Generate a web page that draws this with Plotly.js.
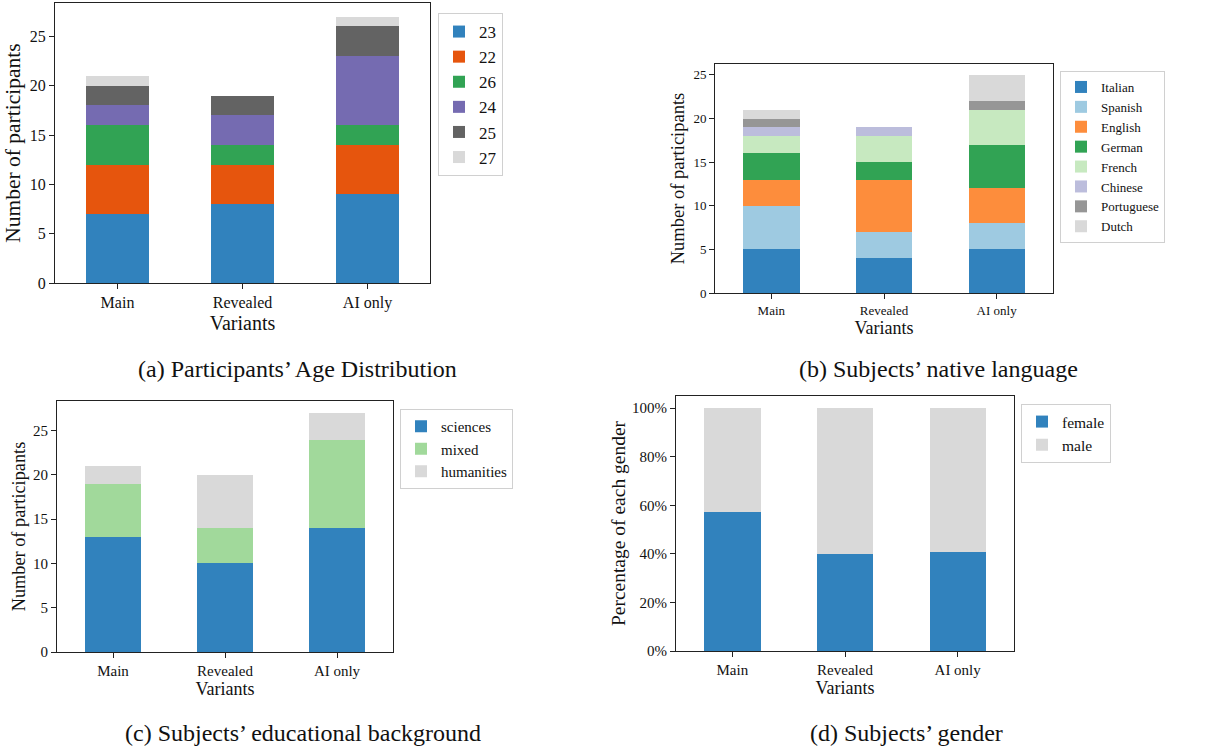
<!DOCTYPE html>
<html>
<head>
<meta charset="utf-8">
<script src="https://cdn.plot.ly/plotly-3.0.1.min.js"></script>
<style>html,body{margin:0;padding:0;background:#fff;} #chart{width:1208px;height:751px;}</style>
</head>
<body>
<div id="chart"></div>
<script>
// ---- shared categories ----
const variants = ["Main", "Revealed", "AI only"];

// ---- (a) age distribution ----
const ageLabels = ["23", "22", "26", "24", "25", "27"];
const age23 = [7, 8, 9];
const age22 = [5, 4, 5];
const age26 = [4, 2, 2];
const age24 = [2, 3, 7];
const age25 = [2, 2, 3];
const age27 = [1, 0, 1];
const ageColors = ["#3182bd", "#e6550d", "#31a354", "#756bb1", "#636363", "#d9d9d9"];

// ---- (b) native language ----
const langLabels = ["Italian", "Spanish", "English", "German", "French", "Chinese", "Portuguese", "Dutch"];
const italian = [5, 4, 5];
const spanish = [5, 3, 3];
const english = [3, 6, 4];
const german = [3, 2, 5];
const french = [2, 3, 4];
const chinese = [1, 1, 0];
const portuguese = [1, 0, 1];
const dutch = [1, 0, 3];
const langColors = ["#3182bd", "#9ecae1", "#fd8d3c", "#31a354", "#c7e9c0", "#bcbddc", "#969696", "#d9d9d9"];

// ---- (c) educational background ----
const eduLabels = ["sciences", "mixed", "humanities"];
const sciences = [13, 10, 14];
const mixed = [6, 4, 10];
const humanities = [2, 6, 3];
const eduColors = ["#3182bd", "#a1d99b", "#d9d9d9"];

// ---- (d) gender (percent) ----
const genderLabels = ["female", "male"];
const female = [57.1, 40.0, 40.7];
const male = [42.9, 60.0, 59.3];
const genderColors = ["#3182bd", "#d9d9d9"];
const pctTicks = [0, 20, 40, 60, 80, 100];
const pctTickLabels = ["0%", "20%", "40%", "60%", "80%", "100%"];

// ---- count ticks ----
const countTicks = [0, 5, 10, 15, 20, 25];
const countTickLabels = ["0", "5", "10", "15", "20", "25"];

const FONT = "Liberation Serif, Times New Roman, serif";
const traces = [];

function addStack(labels, series, colors, xa, ya, leg) {
  series.forEach((vals, i) => {
    traces.push({
      type: "bar", x: variants, y: vals, name: labels[i],
      marker: {color: colors[i], line: {width: 0}},
      width: 0.5, xaxis: xa, yaxis: ya, legend: leg,
      hoverinfo: "name+y"
    });
  });
}
addStack(ageLabels, [age23, age22, age26, age24, age25, age27], ageColors, "x", "y", "legend");
addStack(langLabels, [italian, spanish, english, german, french, chinese, portuguese, dutch], langColors, "x2", "y2", "legend2");
addStack(eduLabels, [sciences, mixed, humanities], eduColors, "x3", "y3", "legend3");
addStack(genderLabels, [female, male], genderColors, "x4", "y4", "legend4");

const W = 1208, H = 751;
function dx(a, b) { return [a / W, b / W]; }
function dy(top, bottom) { return [1 - bottom / H, 1 - top / H]; }

function xaxis(domain, anchor, tickSize, titleSize, standoff) {
  return {
    domain: domain, anchor: anchor, type: "category", range: [-0.5, 2.5],
    showline: true, linecolor: "#222", linewidth: 1, mirror: true,
    ticks: "outside", ticklen: 5, tickcolor: "#222",
    tickfont: {family: FONT, size: tickSize, color: "#111"},
    title: {text: "Variants", font: {family: FONT, size: titleSize, color: "#111"}, standoff: standoff},
    showgrid: false, zeroline: false, fixedrange: true
  };
}
function yaxis(domain, anchor, range, tickvals, ticktext, tickSize, titleText, titleSize, standoff) {
  return {
    domain: domain, anchor: anchor, range: range,
    tickmode: "array", tickvals: tickvals, ticktext: ticktext,
    showline: true, linecolor: "#222", linewidth: 1, mirror: true,
    ticks: "outside", ticklen: 5, tickcolor: "#222",
    tickfont: {family: FONT, size: tickSize, color: "#111"},
    title: {text: titleText, font: {family: FONT, size: titleSize, color: "#111"}, standoff: standoff},
    showgrid: false, zeroline: false, fixedrange: true
  };
}
function legend(xpx, ypx, size) {
  return {
    x: xpx / W, y: 1 - ypx / H, xanchor: "left", yanchor: "top",
    bgcolor: "#fff", bordercolor: "#d0d0d0", borderwidth: 1,
    font: {family: FONT, size: size, color: "#111"}, traceorder: "normal"
  };
}

const layout = {
  width: W, height: H, margin: {l: 0, r: 0, t: 0, b: 0},
  paper_bgcolor: "#fff", plot_bgcolor: "#fff",
  barmode: "stack", showlegend: true,
  font: {family: FONT, color: "#111"},
  xaxis: xaxis(dx(55, 430), "y", 16, 20, 4),
  yaxis: yaxis(dy(3.3, 283), "x", [0, 28.35], countTicks, countTickLabels, 16, "Number of participants", 21.5, 3),
  xaxis2: xaxis(dx(715, 1053), "y2", 13, 18, 3),
  yaxis2: yaxis(dy(64, 293), "x2", [0, 26.25], countTicks, countTickLabels, 13, "Number of participants", 18.5, 3),
  xaxis3: xaxis(dx(57, 393), "y3", 15, 18, 3),
  yaxis3: yaxis(dy(401, 652), "x3", [0, 28.35], countTicks, countTickLabels, 15, "Number of participants", 18.3, 2),
  xaxis4: xaxis(dx(676, 1014), "y4", 15, 18, 3),
  yaxis4: yaxis(dy(396, 651), "x4", [0, 105], pctTicks, pctTickLabels, 15, "Percentage of each gender", 19.5, 1),
  legend: legend(438, 13, 17),
  legend2: legend(1060, 71, 13),
  legend3: legend(400, 409, 15),
  legend4: legend(1021, 404, 15.5),
  annotations: [
    {text: "(a) Participants’ Age Distribution", x: 297 / W, y: 1 - 369 / H},
    {text: "(b) Subjects’ native language", x: 938 / W, y: 1 - 369 / H},
    {text: "(c) Subjects’ educational background", x: 303 / W, y: 1 - 733 / H},
    {text: "(d) Subjects’ gender", x: 906 / W, y: 1 - 733 / H}
  ].map(a => Object.assign(a, {
    xref: "paper", yref: "paper", xanchor: "center", yanchor: "middle",
    showarrow: false, font: {family: FONT, size: 24, color: "#111"}
  }))
};

Plotly.newPlot("chart", traces, layout, {displayModeBar: false});
</script>
</body>
</html>
